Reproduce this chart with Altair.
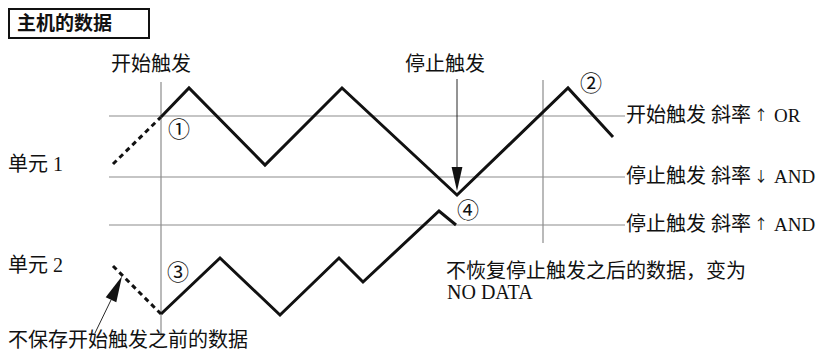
import altair as alt
import pandas as pd

SERIF = "Liberation Serif, Noto Sans CJK SC, serif"
SANS = "Noto Sans CJK SC, sans-serif"
INK = "#111111"
GRID = "#8c8c8c"

# ---- diagram space (time runs left->right, level top->bottom) ----
threshold_names = ["开始触发 斜率", "停止触发 斜率", "停止触发 斜率"]
threshold_arrows = ["↑", "↓", "↑"]
threshold_logic = ["OR", "AND", "AND"]
threshold_levels = [116, 177, 225]
threshold_from = [109, 109, 109]
threshold_to = [625, 625, 625]

marker_times = [161, 543]
marker_top = [82, 80]
marker_bottom = [337, 243]

unit1_pre_time = [113, 161]
unit1_pre_level = [164, 117]
unit1_time = [161, 189, 265, 342, 457, 568, 613]
unit1_level = [117, 88, 165, 88, 195, 88, 137]

unit2_pre_time = [113, 161]
unit2_pre_level = [266, 314]
unit2_time = [161, 220, 280, 339, 363, 439, 456]
unit2_level = [314, 258, 315, 258, 282, 211, 225]

circled_labels = ["①", "②", "③", "④"]
circled_time = [179, 591, 178, 468]
circled_level = [130, 84, 273, 211]

note_labels = ["开始触发", "停止触发", "单元 1", "单元 2",
               "不恢复停止触发之后的数据，变为", "NO DATA", "不保存开始触发之前的数据"]
note_time = [111, 405, 8, 8, 446, 447, 8]
note_level = [65, 65, 165, 266, 272, 293, 341]

title_text = ["主机的数据"]
title_box = [9, 149, 9, 38]  # x1, x2, y1, y2

stop_arrow = [457, 79, 168]  # time, from level, to level
stop_head = [457, 179]
pre_arrow = [95, 333, 111, 300]
pre_head = [116.5, 288]

xs = alt.Scale(domain=[8, 818])
ys = alt.Scale(domain=[8, 350], reverse=True)


def X(f="x"):
    return alt.X(f"{f}:Q", scale=xs, axis=None)


def Y(f="y"):
    return alt.Y(f"{f}:Q", scale=ys, axis=None)


def text_layer(df, font, size, align="left", weight="normal"):
    return alt.Chart(df).mark_text(
        font=font, fontSize=size, align=align, baseline="middle", color=INK,
        fontWeight=weight).encode(x=X(), y=Y(), text="t:N")


# threshold lines
hdf = pd.DataFrame({"x": threshold_from, "x2": threshold_to, "y": threshold_levels})
hlines = alt.Chart(hdf).mark_rule(color=GRID, strokeWidth=1.2).encode(
    x=X(), x2="x2:Q", y=Y())

vdf = pd.DataFrame({"x": marker_times, "y": marker_top, "y2": marker_bottom})
vlines = alt.Chart(vdf).mark_rule(color=GRID, strokeWidth=1.2).encode(
    x=X(), y=Y(), y2="y2:Q")


def series_frame(items):
    rows = []
    for name, ts, ls in items:
        for i, (t, l) in enumerate(zip(ts, ls)):
            rows.append({"s": name, "o": i, "x": t, "y": l})
    return pd.DataFrame(rows)


pre_df = series_frame([("u1pre", unit1_pre_time, unit1_pre_level),
                       ("u2pre", unit2_pre_time, unit2_pre_level)])
wave_df = series_frame([("u1", unit1_time, unit1_level),
                        ("u2", unit2_time, unit2_level)])

pre_lines = alt.Chart(pre_df).mark_line(
    color=INK, strokeWidth=3, strokeDash=[5, 4]).encode(
    x=X(), y=Y(), detail="s:N", order="o:Q")
waves = alt.Chart(wave_df).mark_line(
    color=INK, strokeWidth=3, strokeJoin="miter").encode(
    x=X(), y=Y(), detail="s:N", order="o:Q")

# arrows
arrow_lines_df = pd.DataFrame({
    "x": [stop_arrow[0], pre_arrow[0]],
    "x2": [stop_arrow[0], pre_arrow[2]],
    "y": [stop_arrow[1], pre_arrow[1]],
    "y2": [stop_arrow[2], pre_arrow[3]],
})
arrow_lines = alt.Chart(arrow_lines_df).mark_rule(color=INK, strokeWidth=0.9).encode(
    x=X(), x2="x2:Q", y=Y(), y2="y2:Q")

HEAD = "M0,-1 L0.45,1 L-0.45,1 Z"
head1 = alt.Chart(pd.DataFrame({"x": [stop_head[0]], "y": [stop_head[1]]})).mark_point(
    shape=HEAD, size=576, filled=True, color=INK, opacity=1, angle=180).encode(x=X(), y=Y())
head2 = alt.Chart(pd.DataFrame({"x": [pre_head[0]], "y": [pre_head[1]]})).mark_point(
    shape=HEAD, size=676, filled=True, color=INK, opacity=1, angle=25).encode(x=X(), y=Y())

# title box
box = alt.Chart(pd.DataFrame({"x": [title_box[0]], "x2": [title_box[1]],
                              "y": [title_box[2]], "y2": [title_box[3]]})).mark_rect(
    fill=None, stroke=INK, strokeWidth=2).encode(x=X(), x2="x2:Q", y=Y(), y2="y2:Q")
title = text_layer(pd.DataFrame({"x": [17], "y": [24], "t": title_text}), SANS, 19,
                   weight="bold")

# threshold labels (name, slope arrow, logic)
thr_name = text_layer(pd.DataFrame({"x": [626] * 3, "y": threshold_levels,
                                    "t": threshold_names}), SERIF, 20)
thr_arrow = text_layer(pd.DataFrame({"x": [754] * 3, "y": threshold_levels,
                                     "t": threshold_arrows}), SANS, 14)
thr_logic = text_layer(pd.DataFrame({"x": [774] * 3, "y": threshold_levels,
                                     "t": threshold_logic}), SERIF, 19)

notes = text_layer(pd.DataFrame({"x": note_time, "y": note_level, "t": note_labels}),
                   SERIF, 20)

circ = text_layer(pd.DataFrame({"x": circled_time, "y": circled_level, "t": circled_labels}),
                  SANS, 22, align="center")

chart = alt.layer(
    hlines, vlines, pre_lines, waves, arrow_lines, head1, head2, box, title,
    thr_name, thr_arrow, thr_logic, notes, circ
).properties(
    width=810, height=342, padding=0, autosize=alt.AutoSizeParams(type="none")
).configure_view(stroke=None)

chart.save("out.html", embed_options={"renderer": "svg", "actions": False})
